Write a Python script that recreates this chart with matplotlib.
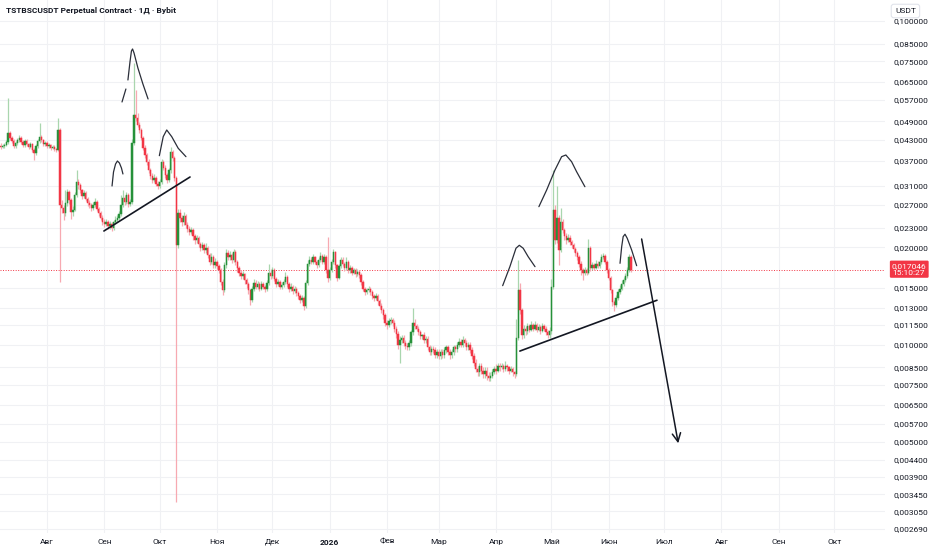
import datetime as dt
import numpy as np
import matplotlib
matplotlib.use("Agg")
import matplotlib.pyplot as plt
import matplotlib.dates as mdates
import matplotlib.transforms as mtrans
from matplotlib.ticker import FixedLocator, FuncFormatter, NullLocator

plt.rcParams["font.family"] = ["Roboto", "DejaVu Sans"]

# daily candles, first one on 2025-07-07; open of each day = previous close
FIRST_DAY = dt.date(2025, 7, 7)
FIRST_OPEN = 0.0412
CLOSE = [
    .0409, .0411, .0414, .0423, .0451, .0435, .0426, .0411, .0420, .0429,
    .0435, .0423, .0414, .0426, .0417, .0409, .0417, .0399, .0390, .0411,
    .0426, .0438, .0429, .0417, .0420, .0411, .0414, .0405, .0409, .0402,
    .0399, .0460, .0270, .0264, .0255, .0274, .0296, .0280, .0257, .0261,
    .0290, .0318, .0311, .0300, .0288, .0294, .0282, .0274, .0270, .0264,
    .0270, .0276, .0263, .0255, .0247, .0239, .0236, .0239, .0232, .0236,
    .0230, .0239, .0243, .0246, .0253, .0270, .0284, .0276, .0290, .0272,
    .0276, .0420, .0512, .0501, .0477, .0460, .0435, .0405, .0385, .0366,
    .0346, .0332, .0323, .0327, .0314, .0309, .0318, .0366, .0352, .0334,
    .0323, .0346, .0394, .0377, .0327, .0203, .0255, .0246, .0239, .0250,
    .0234, .0228, .0223, .0226, .0216, .0210, .0213, .0204, .0199, .0203,
    .0196, .0199, .0189, .0180, .0186, .0176, .0180, .0175, .0170, .0156,
    .0147, .0176, .0192, .0186, .0189, .0183, .0193, .0180, .0172, .0167,
    .0163, .0165, .0158, .0154, .0147, .0137, .0149, .0155, .0151, .0154,
    .0149, .0154, .0151, .0148, .0155, .0167, .0163, .0170, .0160, .0154,
    .0156, .0151, .0153, .0156, .0162, .0154, .0148, .0151, .0146, .0149,
    .0144, .0141, .0137, .0139, .0132, .0155, .0178, .0183, .0180, .0186,
    .0180, .0176, .0183, .0188, .0180, .0187, .0170, .0161, .0170, .0180,
    .0193, .0176, .0161, .0175, .0183, .0178, .0172, .0180, .0170, .0172,
    .0167, .0170, .0165, .0168, .0164, .0156, .0149, .0145, .0147, .0149,
    .0145, .0141, .0139, .0141, .0136, .0132, .0128, .0123, .0117, .0115,
    .0118, .0119, .0117, .0112, .0108, .0100, .0103, .0105, .0101, .0099,
    .0098, .0101, .0109, .0117, .0114, .0112, .0109, .0106, .0107, .0103,
    .0104, .0098, .0095, .0097, .0096, .0093, .0095, .0092, .0095, .0093,
    .0096, .0098, .0095, .0093, .0095, .0098, .0097, .0100, .0102, .0100,
    .0103, .0101, .0098, .0100, .0096, .0092, .0088, .0084, .0082, .0086,
    .0083, .0081, .0083, .0080, .0079, .0080, .0082, .0084, .0083, .0086,
    .0085, .0086, .0084, .0086, .0085, .0083, .0084, .0082, .0081, .0105,
    .0147, .0128, .0107, .0112, .0110, .0114, .0111, .0115, .0112, .0115,
    .0111, .0113, .0110, .0114, .0112, .0109, .0107, .0110, .0151, .0261,
    .0210, .0246, .0196, .0239, .0226, .0216, .0210, .0214, .0207, .0203,
    .0197, .0192, .0186, .0178, .0170, .0167, .0170, .0167, .0199, .0172,
    .0176, .0173, .0178, .0175, .0180, .0186, .0188, .0180, .0170, .0161,
    .0147, .0135, .0133, .0139, .0145, .0149, .0154, .0158, .0163, .0170,
    .0186, .017046,
]
HIGH = [
    .0420, .0418, .0421, .0430, .0580, .0458, .0440, .0431, .0427, .0436,
    .0443, .0440, .0428, .0432, .0431, .0421, .0423, .0420, .0404, .0416,
    .0433, .0484, .0444, .0433, .0427, .0425, .0420, .0418, .0414, .0413,
    .0406, .0501, .0468, .0280, .0270, .0300, .0303, .0300, .0284, .0268,
    .0296, .0346, .0326, .0315, .0303, .0300, .0298, .0286, .0279, .0274,
    .0276, .0283, .0279, .0267, .0259, .0251, .0244, .0245, .0243, .0241,
    .0239, .0243, .0249, .0252, .0259, .0290, .0300, .0289, .0296, .0294,
    .0282, .0432, .0740, .0610, .0520, .0488, .0468, .0442, .0414, .0392,
    .0375, .0352, .0338, .0336, .0332, .0320, .0325, .0374, .0372, .0358,
    .0340, .0352, .0408, .0400, .0383, .0332, .0262, .0262, .0251, .0256,
    .0254, .0239, .0232, .0231, .0229, .0220, .0218, .0216, .0207, .0208,
    .0206, .0206, .0202, .0192, .0192, .0189, .0185, .0183, .0178, .0173,
    .0159, .0180, .0198, .0196, .0194, .0192, .0198, .0196, .0183, .0175,
    .0170, .0169, .0167, .0161, .0156, .0149, .0152, .0159, .0158, .0157,
    .0156, .0157, .0156, .0153, .0158, .0177, .0171, .0174, .0172, .0162,
    .0160, .0158, .0156, .0159, .0168, .0164, .0156, .0155, .0153, .0152,
    .0151, .0146, .0143, .0142, .0141, .0158, .0183, .0188, .0187, .0190,
    .0188, .0182, .0187, .0193, .0190, .0191, .0189, .0215, .0174, .0184,
    .0197, .0195, .0178, .0178, .0187, .0186, .0180, .0186, .0182, .0176,
    .0175, .0173, .0172, .0171, .0170, .0166, .0158, .0151, .0150, .0152,
    .0151, .0147, .0143, .0144, .0143, .0138, .0134, .0130, .0125, .0119,
    .0121, .0122, .0121, .0119, .0114, .0110, .0106, .0107, .0107, .0103,
    .0101, .0103, .0111, .0130, .0120, .0116, .0114, .0111, .0108, .0109,
    .0106, .0106, .0100, .0099, .0099, .0098, .0097, .0097, .0097, .0097,
    .0098, .0100, .0100, .0097, .0097, .0100, .0100, .0102, .0105, .0104,
    .0106, .0105, .0103, .0102, .0102, .0098, .0094, .0090, .0086, .0088,
    .0088, .0085, .0085, .0085, .0082, .0082, .0084, .0086, .0087, .0088,
    .0088, .0088, .0087, .0089, .0087, .0086, .0086, .0085, .0083, .0120,
    .0183, .0155, .0130, .0115, .0114, .0117, .0116, .0118, .0117, .0118,
    .0117, .0116, .0115, .0117, .0116, .0114, .0111, .0113, .0160, .0346,
    .0270, .0309, .0252, .0265, .0245, .0230, .0222, .0220, .0218, .0210,
    .0206, .0200, .0195, .0189, .0181, .0173, .0174, .0173, .0212, .0202,
    .0180, .0179, .0182, .0181, .0184, .0190, .0192, .0190, .0182, .0173,
    .0163, .0149, .0137, .0142, .0148, .0153, .0158, .0162, .0167, .0174,
    .0190, .0189,
]
LOW = [
    .0403, .0404, .0406, .0410, .0418, .0428, .0420, .0405, .0406, .0415,
    .0424, .0418, .0408, .0409, .0411, .0403, .0404, .0393, .0372, .0386,
    .0406, .0421, .0423, .0412, .0412, .0406, .0406, .0400, .0401, .0397,
    .0394, .0396, .0156, .0255, .0243, .0250, .0268, .0272, .0245, .0250,
    .0258, .0286, .0303, .0294, .0282, .0284, .0277, .0269, .0265, .0259,
    .0260, .0266, .0258, .0250, .0242, .0235, .0231, .0232, .0228, .0228,
    .0224, .0226, .0236, .0239, .0242, .0250, .0266, .0270, .0272, .0266,
    .0268, .0272, .0415, .0490, .0470, .0452, .0428, .0398, .0378, .0358,
    .0338, .0325, .0316, .0318, .0308, .0302, .0305, .0314, .0346, .0328,
    .0316, .0318, .0340, .0370, .0320, .00326, .0199, .0240, .0233, .0234,
    .0229, .0223, .0218, .0219, .0211, .0205, .0206, .0200, .0195, .0196,
    .0192, .0192, .0185, .0176, .0177, .0172, .0173, .0171, .0166, .0153,
    .0142, .0145, .0173, .0182, .0182, .0179, .0180, .0176, .0168, .0163,
    .0159, .0160, .0154, .0150, .0143, .0133, .0135, .0146, .0148, .0149,
    .0146, .0147, .0148, .0145, .0146, .0153, .0160, .0161, .0157, .0151,
    .0152, .0148, .0149, .0151, .0154, .0151, .0145, .0146, .0143, .0144,
    .0141, .0138, .0134, .0135, .0128, .0130, .0153, .0175, .0177, .0178,
    .0177, .0173, .0174, .0180, .0177, .0178, .0166, .0156, .0158, .0168,
    .0178, .0172, .0157, .0159, .0173, .0175, .0169, .0170, .0167, .0167,
    .0164, .0165, .0162, .0163, .0161, .0153, .0146, .0142, .0143, .0145,
    .0142, .0138, .0136, .0137, .0133, .0129, .0125, .0120, .0114, .0112,
    .0113, .0116, .0114, .0109, .0105, .0097, .0088, .0101, .0099, .0097,
    .0096, .0096, .0099, .0107, .0112, .0110, .0107, .0104, .0104, .0101,
    .0101, .0096, .0093, .0093, .0094, .0091, .0091, .0090, .0090, .0091,
    .0091, .0094, .0093, .0090, .0091, .0093, .0095, .0095, .0098, .0098,
    .0098, .0099, .0096, .0096, .0094, .0090, .0086, .0082, .0080, .0080,
    .0081, .0079, .0079, .0078, .0077, .0077, .0079, .0081, .0081, .0082,
    .0083, .0084, .0082, .0083, .0083, .0081, .0082, .0080, .0079, .0080,
    .0103, .0124, .0104, .0105, .0107, .0108, .0109, .0110, .0110, .0111,
    .0109, .0110, .0108, .0109, .0110, .0107, .0105, .0105, .0108, .0148,
    .0205, .0206, .0176, .0193, .0221, .0211, .0205, .0207, .0203, .0199,
    .0193, .0188, .0182, .0174, .0164, .0158, .0164, .0164, .0165, .0169,
    .0170, .0170, .0171, .0172, .0173, .0178, .0184, .0177, .0167, .0158,
    .0144, .0132, .0127, .0131, .0137, .0143, .0147, .0152, .0156, .0161,
    .0168, .0168,
]
LAST_PRICE_TEXT = "0,017046"
LAST_TIME_TEXT = "15:10:27"

PRICE_TICKS = [0.1, 0.085, 0.075, 0.065, 0.057, 0.049, 0.043, 0.037, 0.031,
               0.027, 0.023, 0.020, 0.015, 0.013, 0.0115, 0.010, 0.0085,
               0.0075, 0.0065, 0.0057, 0.005, 0.0044, 0.0039, 0.00345,
               0.00305, 0.00269]
MONTH_DATES = [dt.date(2025, m, 1) for m in range(8, 13)] + \
              [dt.date(2026, m, 1) for m in range(1, 11)]
MONTH_LABELS = ["Авг", "Сен", "Окт", "Ноя", "Дек", "2026", "Фев", "Мар",
                "Апр", "Май", "Июн", "Июл", "Авг", "Сен", "Окт"]

# hand-drawn marks: (days after 2025-08-01, price)
ORIGIN = dt.date(2025, 8, 1)
TREND1 = [(30.8, 0.02244), (77.4, 0.03295)]
TREND2 = [(255.9, 0.00955), (330.1, 0.01371)]
ARC_LS1 = [(35.2, 0.03091), (36.0, 0.03415), (37.1, 0.03614), (38.1, 0.03692),
           (39.2, 0.03640), (40.3, 0.03512), (41.1, 0.03367)]
HEAD1_TICK = [(40.6, 0.05620), (42.7, 0.06163)]
HEAD1 = [(43.8, 0.06572), (44.9, 0.07468), (45.7, 0.08078), (46.3, 0.08194),
         (47.1, 0.07964), (49.2, 0.07157), (51.9, 0.06389), (54.7, 0.05741)]
ARC_RS1 = [(60.8, 0.03835), (62.9, 0.04391), (64.8, 0.04604), (67.5, 0.04391),
           (71.0, 0.04043), (75.2, 0.03808)]
ARC_LS2 = [(246.6, 0.01521), (250.5, 0.01741), (253.8, 0.01985), (255.6, 0.02027),
           (257.7, 0.01985), (260.4, 0.01869), (264.1, 0.01741)]
HEAD2 = [(266.2, 0.02668), (270.4, 0.03004), (274.9, 0.03463), (278.5, 0.03808),
         (280.8, 0.03854), (283.9, 0.03674), (286.6, 0.03422), (291.1, 0.03075)]
ARC_RS2 = [(310.1, 0.01783), (311.0, 0.02007), (311.8, 0.02155), (312.8, 0.02193),
           (314.0, 0.02131), (316.4, 0.01960), (319.1, 0.01753)]
ARROW = [(321.8, 0.02120), (341.6, 0.004955)]

UP_BODY, UP_WICK = "#26913a", "#a9d6ae"
DN_BODY, DN_WICK = "#f23645", "#f7a9b1"
TXT = "#131722"

close = np.array(CLOSE)
high = np.array(HIGH)
low = np.array(LOW)
opens = np.concatenate([[FIRST_OPEN], close[:-1]])
x = mdates.date2num(FIRST_DAY) + np.arange(len(close))
up = close >= opens
base = mdates.date2num(ORIGIN)

fig = plt.figure(figsize=(9.32, 5.5), dpi=100)
ax = fig.add_axes([0, 17 / 550, 885 / 932, 533 / 550])
ax.set_yscale("log")
ax.set_ylim(0.002617, 0.1161)
ax.set_xlim(base - 25.43, base + 453.5)

ax.vlines(x, low, high, colors=np.where(up, UP_WICK, DN_WICK), lw=0.9, zorder=2)
ax.bar(x, np.abs(close - opens), bottom=np.minimum(close, opens), width=0.75,
       color=np.where(up, UP_BODY, DN_BODY), edgecolor=np.where(up, UP_BODY, DN_BODY),
       linewidth=0.35, zorder=3)

last = close[-1]
ax.axhline(last, color=DN_BODY, lw=0.7, ls=(0, (1, 1.6)), zorder=1)


def draw(pts, lw=0.9, color="#2a2e39"):
    d, p = zip(*pts)
    ax.plot(base + np.array(d), p, color=color, lw=lw, solid_capstyle="round", zorder=5)


draw(TREND1, lw=1.2, color="#131722")
draw(TREND2, lw=1.2, color="#131722")
for arc in (ARC_LS1, HEAD1_TICK, HEAD1, ARC_RS1, ARC_LS2, HEAD2, ARC_RS2):
    draw(arc)
(a0d, a0p), (a1d, a1p) = ARROW
ax.annotate("", xy=(base + a1d, a1p), xytext=(base + a0d, a0p),
            arrowprops=dict(arrowstyle="->,head_length=0.6,head_width=0.3",
                            color="#131722", lw=1.1, shrinkA=0, shrinkB=0), zorder=5)

# axes / grid
for s in ax.spines.values():
    s.set_visible(False)
ax.yaxis.tick_right()
ax.yaxis.set_major_locator(FixedLocator(PRICE_TICKS))
ax.yaxis.set_minor_locator(NullLocator())
ax.yaxis.set_major_formatter(FuncFormatter(lambda v, _: f"{v:.6f}".replace(".", ",")))
ax.set_xticks(mdates.date2num(MONTH_DATES))
ax.set_xticklabels(MONTH_LABELS)
ax.get_xticklabels()[5].set_fontweight("bold")
ax.tick_params(axis="both", length=0, labelsize=6, colors=TXT)
ax.tick_params(axis="y", pad=6)
ax.tick_params(axis="x", pad=4)
ax.grid(True, color="#f0f1f4", lw=0.8, zorder=0)
ax.set_axisbelow(True)

# last price tag on the price scale
tr = mtrans.blended_transform_factory(ax.transAxes, ax.transData)
ax.annotate(f"{LAST_PRICE_TEXT}\n{LAST_TIME_TEXT}", xy=(1, last), xycoords=tr,
            xytext=(5, 5), textcoords="offset points", va="top", ha="left",
            fontsize=6, color="white", linespacing=1.2, annotation_clip=False,
            bbox=dict(boxstyle="round,pad=0.25,rounding_size=0.15",
                      facecolor=DN_BODY, edgecolor="none"), zorder=10)

fig.text(895 / 932, 1 - 11 / 550, "USDT", fontsize=6, color=TXT, va="center", ha="left",
         bbox=dict(boxstyle="round,pad=0.45,rounding_size=0.3", facecolor="white",
                   edgecolor="#e0e3eb", lw=0.8), zorder=10)
fig.text(6 / 932, 1 - 10 / 550, "TSTBSCUSDT Perpetual Contract · 1Д · Bybit",
         fontsize=6, fontweight="bold", color=TXT, va="center", ha="left")

fig.savefig("out.png", dpi=100, facecolor="white")
